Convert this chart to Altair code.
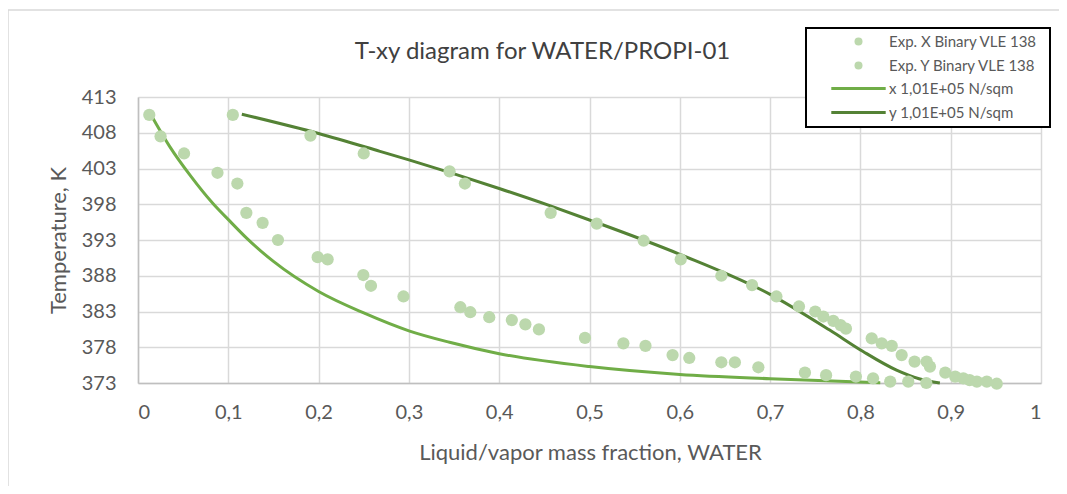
import altair as alt
import pandas as pd

# ---- experimental liquid-phase points (x, T) ----
liq_x = [0.0125, 0.025, 0.051, 0.088, 0.110, 0.120, 0.138, 0.155, 0.199, 0.210,
         0.2495, 0.258, 0.294, 0.357, 0.368, 0.389, 0.414, 0.429, 0.444, 0.495,
         0.5375, 0.562, 0.592, 0.6105, 0.646, 0.661, 0.687, 0.7386, 0.762, 0.795,
         0.814, 0.833, 0.853, 0.873]
liq_T = [410.5, 407.5, 405.1, 402.4, 400.9, 396.8, 395.4, 393.0, 390.6, 390.3,
         388.1, 386.6, 385.1, 383.6, 382.9, 382.2, 381.8, 381.2, 380.5, 379.3,
         378.55, 378.2, 376.9, 376.5, 375.9, 375.9, 375.2, 374.45, 374.1, 373.9,
         373.65, 373.2, 373.2, 373.0]

# ---- experimental vapor-phase points (y, T) ----
vap_y = [0.105, 0.191, 0.250, 0.345, 0.362, 0.457, 0.508, 0.560, 0.601, 0.646,
         0.680, 0.707, 0.732, 0.750, 0.759, 0.770, 0.778, 0.784, 0.8125, 0.8236,
         0.8347, 0.8457, 0.860, 0.8734, 0.877, 0.894, 0.905, 0.914, 0.921, 0.929,
         0.940, 0.951]
vap_T = [410.5, 407.6, 405.1, 402.6, 400.9, 396.8, 395.3, 392.9, 390.3, 388.0,
         386.7, 385.1, 383.7, 383.0, 382.3, 381.7, 381.1, 380.6, 379.25, 378.55,
         378.2, 376.9, 376.0, 376.0, 375.3, 374.45, 373.9, 373.65, 373.4, 373.2,
         373.2, 372.9]

# ---- model curves at 1,01E+05 N/sqm ----
xc_x = [0.014, 0.035, 0.058, 0.083, 0.102, 0.120, 0.150, 0.200, 0.250, 0.300,
        0.345, 0.400, 0.500, 0.600, 0.700, 0.822]
xc_T = [410.6, 406.1, 402.0, 398.1, 395.6, 393.3, 390.0, 385.8, 382.8, 380.3,
        378.7, 377.1, 375.3, 374.2, 373.6, 373.05]
yc_x = [0.115, 0.200, 0.268, 0.300, 0.400, 0.456, 0.500, 0.600, 0.700, 0.766,
        0.803, 0.840, 0.865, 0.888]
yc_T = [410.6, 407.9, 405.4, 404.2, 400.2, 397.8, 395.8, 391.0, 385.4, 380.4,
        377.4, 374.8, 373.6, 373.0]

exp_names = ["Exp. X Binary VLE 138", "Exp. Y Binary VLE 138"]
model_names = ["x 1,01E+05 N/sqm", "y 1,01E+05 N/sqm"]
x_ticks = [0, 0.1, 0.2, 0.3, 0.4, 0.5, 0.6, 0.7, 0.8, 0.9, 1]
y_ticks = [373, 378, 383, 388, 393, 398, 403, 408, 413]

exp_colors = ["#bcd8ad", "#bcd8ad"]
model_colors = ["#70ad47", "#548235"]

pts = pd.concat([
    pd.DataFrame({"x": liq_x, "T": liq_T, "series": exp_names[0]}),
    pd.DataFrame({"x": vap_y, "T": vap_T, "series": exp_names[1]}),
], ignore_index=True)
curves = pd.concat([
    pd.DataFrame({"x": xc_x, "T": xc_T, "model": model_names[0], "idx": range(len(xc_x))}),
    pd.DataFrame({"x": yc_x, "T": yc_T, "model": model_names[1], "idx": range(len(yc_x))}),
], ignore_index=True)

FONT = "Lato"
TXT = "#595959"

x_enc = alt.X("x:Q",
              scale=alt.Scale(domain=[0, 1], nice=False),
              axis=alt.Axis(values=x_ticks,
                            labelExpr="replace(format(datum.value, '.1~f'), '.', ',')",
                            title="Liquid/vapor mass fraction, WATER",
                            titleX=452, titleY=69, titleBaseline="middle",
                            labelPadding=29, labelBaseline="middle"))
y_enc = alt.Y("T:Q",
              scale=alt.Scale(domain=[373, 413], nice=False, zero=False),
              axis=alt.Axis(values=y_ticks, format="d",
                            title="Temperature, K",
                            titleX=-80, titleY=143, titleBaseline="middle",
                            titleAlign="center", labelPadding=22))

common_leg = dict(title=None, orient="none", legendX=668, padding=0,
                  symbolSize=64, symbolOffset=45, labelOffset=23, rowPadding=8,
                  labelFont=FONT, labelFontSize=15, labelColor=TXT,
                  labelLimit=300, zindex=2)

points = alt.Chart(pts).mark_circle(size=150, opacity=1).encode(
    x=x_enc, y=y_enc,
    fill=alt.Fill("series:N", scale=alt.Scale(domain=exp_names, range=exp_colors),
                  legend=alt.Legend(legendY=-63, symbolType="circle", **common_leg)),
)

lines = alt.Chart(curves).mark_line(strokeWidth=3, interpolate="monotone").encode(
    x=x_enc, y=y_enc,
    stroke=alt.Stroke("model:N", scale=alt.Scale(domain=model_names, range=model_colors),
                      legend=alt.Legend(legendY=-16, symbolType="M-6.8,0L6.8,0",
                                        symbolStrokeWidth=3, **common_leg)),
    order="idx:Q",
)

# outer chart-area border (top and left edges visible) and the legend box
frame = alt.Chart(alt.Data(values=[{"a": 1}])).mark_rect(
    filled=False, stroke="#d9d9d9", strokeWidth=1.5).encode(
    x=alt.value(-130), x2=alt.value(1000), y=alt.value(-87), y2=alt.value(500))
legend_box = alt.Chart(alt.Data(values=[{"a": 1}])).mark_rect(
    fill="white", stroke="black", strokeWidth=2).encode(
    x=alt.value(668), x2=alt.value(912), y=alt.value(-69), y2=alt.value(30))

chart = alt.layer(frame, lines, points, legend_box).properties(
    width=903, height=286,
    title=alt.Title("T-xy diagram for WATER/PROPI-01", font=FONT, fontSize=24,
                    fontWeight="normal", color="#404040", anchor="middle",
                    dx=-47, dy=55, offset=0),
    padding={"left": 130, "top": 89, "right": 18, "bottom": 103},
    autosize=alt.AutoSizeParams(type="none"),
).configure_axis(
    labelFont=FONT, labelFontSize=20, labelColor=TXT,
    titleFont=FONT, titleFontSize=22, titleFontWeight="normal", titleColor=TXT,
    gridColor="#d9d9d9", gridWidth=1.5, domainColor="#bfbfbf", domainWidth=1.5,
    ticks=False, tickSize=0,
).configure_view(strokeWidth=0)

chart.save("out.html", embed_options={"renderer": "svg", "actions": False})
